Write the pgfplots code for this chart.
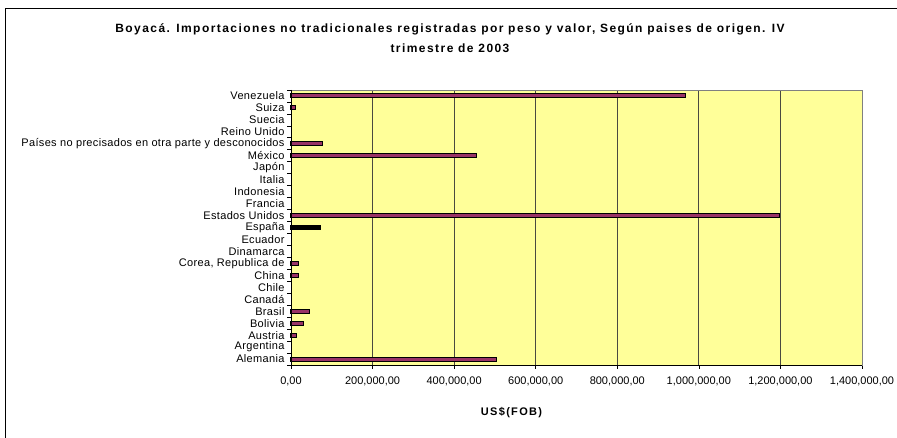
\documentclass[border=0pt]{standalone}
\usepackage{fontspec}
\setmainfont{Liberation Sans}
\usepackage{pgfplots}
\pgfplotsset{compat=1.18}
\definecolor{plotbg}{HTML}{FFFF99}
\definecolor{barfill}{HTML}{993366}
\definecolor{gridc}{HTML}{4A4A40}
\begin{document}
\begin{tikzpicture}
\path[use as bounding box] (0pt,0pt) rectangle (897pt,438pt);
\draw[black, line width=0.9pt] (5pt,0pt) -- (5pt,430pt) -- (897pt,430pt);
\node[font=\bfseries\fontsize{12}{20}\selectfont\addfontfeature{LetterSpace=12}, align=center] at (450pt,400pt)
  {Boyacá. Importaciones no tradicionales registradas por peso y valor, Según paises de origen. IV\\trimestre de 2003};
\begin{axis}[
    at={(291pt,73pt)}, anchor=south west,
    scale only axis,
    width=571pt, height=275pt,
    xbar, bar width=4pt, bar shift=0pt,
    xmin=0, xmax=1400000,
    ymin=0.5, ymax=23.5,
    axis background/.style={fill=plotbg},
    axis line style={draw=gray, line width=0.8pt},
    xtick={0,200000,400000,600000,800000,1000000,1200000,1400000},
    xticklabels={{0,00},{200,000,00},{400,000,00},{600,000,00},{800,000,00},{1,000,000,00},{1,200,000,00},{1,400,000,00}},
    scaled x ticks=false,
    xtick pos=bottom, ytick pos=left,
    xmajorgrids,
    grid style={draw=gridc, line width=0.9pt},
    ytick={1,...,23},
    yticklabels={Alemania,Argentina,Austria,Bolivia,Brasil,Canadá,Chile,China,{Corea, Republica de},Dinamarca,Ecuador,España,Estados Unidos,Francia,Indonesia,Italia,Japón,México,Países no precisados en otra parte y desconocidos,Reino Unido,Suecia,Suiza,Venezuela},
    minor ytick={0.5,1.5,...,23.5},
    tick align=outside,
    major tick length=4pt, minor tick length=4pt,
    major y tick style={draw=none},
    minor y tick style={draw=black, line width=0.7pt},
    major x tick style={draw=black, line width=0.7pt},
    xticklabel style={font=\fontsize{11}{12}\selectfont, yshift=-4pt},
    yticklabel style={font=\fontsize{11}{12}\selectfont\addfontfeature{LetterSpace=3}, xshift=1pt},
    xlabel={\bfseries\addfontfeature{LetterSpace=12}US\$(FOB)},
    xlabel style={at={(axis description cs:0.5,0)}, anchor=center, xshift=-65pt, yshift=-48pt, font=\fontsize{11}{12}\selectfont},
    clip=false,
]
\addplot[fill=barfill, draw=black, line width=1pt] coordinates {
    (505000,1)
    (14000,3)
    (31000,4)
    (46000,5)
    (18000,8)
    (19000,9)
    (1198000,13)
    (456000,18)
    (77000,19)
    (11000,22)
    (968000,23)
};
\addplot[fill=black, draw=black, line width=1pt] coordinates {
    (73000,12)
};
\draw[black, line width=0.9pt] (axis cs:0,23.5) -- (axis cs:0,0.5) -- (axis cs:1400000,0.5);
\end{axis}
\end{tikzpicture}
\end{document}
